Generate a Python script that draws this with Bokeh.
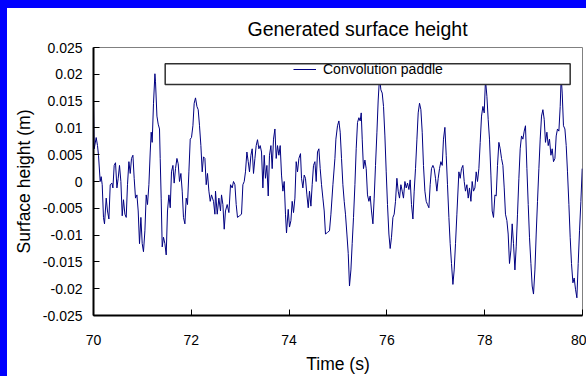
from bokeh.plotting import figure
from bokeh.models import Range1d, FixedTicker, BoxAnnotation, Legend, LegendItem
from bokeh.layouts import column
from bokeh.embed import file_html
from bokeh.resources import INLINE

# ---- data ----
time_s = [
    70.000, 70.014, 70.055, 70.082, 70.102, 70.137, 70.157, 70.178, 70.204, 70.225,
    70.260, 70.286, 70.315, 70.342, 70.376, 70.397, 70.423, 70.450, 70.479, 70.505,
    70.532, 70.560, 70.587, 70.613, 70.642, 70.669, 70.695, 70.724, 70.751, 70.777,
    70.806, 70.832, 70.859, 70.888, 70.914, 70.941, 70.969, 70.996, 71.022, 71.051,
    71.078, 71.104, 71.133, 71.160, 71.180, 71.200, 71.227, 71.256, 71.268, 71.297,
    71.323, 71.350, 71.364, 71.384, 71.405, 71.431, 71.460, 71.487, 71.513, 71.542,
    71.569, 71.595, 71.624, 71.650, 71.677, 71.706, 71.732, 71.759, 71.787, 71.814,
    71.840, 71.869, 71.896, 71.922, 71.951, 71.978, 72.004, 72.033, 72.059, 72.086,
    72.115, 72.141, 72.168, 72.196, 72.223, 72.249, 72.278, 72.305, 72.331, 72.360,
    72.387, 72.413, 72.454, 72.483, 72.495, 72.530, 72.564, 72.597, 72.618, 72.646,
    72.673, 72.699, 72.734, 72.769, 72.802, 72.836, 72.863, 72.892, 72.918, 72.945,
    72.986, 73.027, 73.055, 73.082, 73.108, 73.137, 73.164, 73.190, 73.219, 73.245,
    73.272, 73.301, 73.327, 73.354, 73.382, 73.409, 73.436, 73.464, 73.491, 73.517,
    73.546, 73.573, 73.599, 73.628, 73.654, 73.681, 73.710, 73.736, 73.763, 73.791,
    73.818, 73.845, 73.873, 73.900, 73.926, 73.947, 73.982, 74.008, 74.037, 74.063,
    74.090, 74.119, 74.145, 74.172, 74.200, 74.233, 74.254, 74.282, 74.309, 74.335,
    74.364, 74.391, 74.417, 74.446, 74.472, 74.499, 74.528, 74.554, 74.581, 74.609,
    74.636, 74.663, 74.691, 74.718, 74.744, 74.785, 74.826, 74.855, 74.896, 74.937,
    74.957, 74.990, 75.018, 75.045, 75.072, 75.100, 75.127, 75.153, 75.182, 75.209,
    75.235, 75.264, 75.290, 75.317, 75.346, 75.372, 75.399, 75.427, 75.454, 75.475,
    75.495, 75.521, 75.550, 75.577, 75.603, 75.632, 75.658, 75.685, 75.714, 75.740,
    75.767, 75.796, 75.822, 75.849, 75.877, 75.904, 75.931, 75.959, 75.986, 76.012,
    76.041, 76.067, 76.094, 76.123, 76.149, 76.176, 76.204, 76.231, 76.258, 76.286,
    76.313, 76.339, 76.368, 76.395, 76.421, 76.450, 76.476, 76.503, 76.532, 76.558,
    76.585, 76.614, 76.640, 76.667, 76.695, 76.722, 76.748, 76.777, 76.804, 76.830,
    76.859, 76.885, 76.912, 76.941, 76.967, 76.994, 77.022, 77.049, 77.076, 77.104,
    77.131, 77.157, 77.186, 77.213, 77.239, 77.268, 77.294, 77.321, 77.350, 77.376,
    77.403, 77.431, 77.472, 77.499, 77.526, 77.554, 77.581, 77.607, 77.636, 77.663,
    77.689, 77.718, 77.744, 77.771, 77.800, 77.826, 77.853, 77.881, 77.908, 77.935,
    77.963, 77.990, 78.016, 78.045, 78.071, 78.098, 78.127, 78.153, 78.180, 78.209,
    78.235, 78.262, 78.290, 78.317, 78.344, 78.372, 78.399, 78.425, 78.454, 78.480,
    78.507, 78.536, 78.562, 78.589, 78.618, 78.644, 78.671, 78.699, 78.726, 78.753,
    78.781, 78.808, 78.834, 78.863, 78.890, 78.916, 78.945, 78.971, 78.998, 79.027,
    79.053, 79.080, 79.108, 79.135, 79.162, 79.190, 79.217, 79.243, 79.272, 79.299,
    79.325, 79.354, 79.380, 79.407, 79.436, 79.462, 79.489, 79.517, 79.544, 79.564,
    79.585, 79.611, 79.640, 79.667, 79.693, 79.722, 79.748, 79.775, 79.804, 79.830,
    79.857, 79.885, 79.912, 79.939, 79.967, 79.994,
]

height_m = [
    0.0148, 0.0061, 0.0082, 0.0067, 0.0049, 0.0000, 0.0009, -0.0006, -0.0067, -0.0079,
    -0.0031, -0.0055, -0.0070, -0.0006, -0.0003, -0.0012, 0.0030, 0.0035, -0.0012, 0.0006,
    0.0030, 0.0000, -0.0064, -0.0034, -0.0061, -0.0067, -0.0006, 0.0037, 0.0015, 0.0043,
    0.0049, 0.0006, -0.0031, -0.0025, -0.0055, -0.0116, -0.0067, -0.0116, -0.0131, -0.0092,
    -0.0025, -0.0043, -0.0006, 0.0055, 0.0092, 0.0073, 0.0146, 0.0201, 0.0186, 0.0122,
    0.0107, 0.0098, 0.0043, -0.0031, -0.0122, -0.0104, -0.0116, -0.0137, -0.0055, -0.0025,
    -0.0049, 0.0018, 0.0030, -0.0003, 0.0024, 0.0043, 0.0033, 0.0000, 0.0015, -0.0018,
    -0.0067, -0.0079, -0.0031, -0.0043, 0.0018, 0.0079, 0.0082, 0.0104, 0.0146, 0.0156,
    0.0140, 0.0134, 0.0104, 0.0067, 0.0018, 0.0046, 0.0043, -0.0006, 0.0015, -0.0018,
    -0.0037, -0.0025, -0.0037, -0.0061, -0.0018, -0.0061, -0.0031, -0.0055, -0.0025, -0.0043,
    -0.0089, -0.0055, -0.0043, -0.0058, -0.0006, -0.0012, 0.0000, -0.0006, -0.0043, -0.0067,
    -0.0064, -0.0061, -0.0006, 0.0000, 0.0018, 0.0055, 0.0037, 0.0018, 0.0049, 0.0061,
    0.0015, 0.0043, 0.0067, 0.0078, 0.0061, 0.0067, 0.0055, -0.0012, 0.0049, 0.0006,
    0.0030, -0.0027, 0.0049, 0.0067, 0.0024, 0.0079, 0.0098, 0.0043, 0.0067, 0.0049,
    0.0067, 0.0012, -0.0018, 0.0000, -0.0061, -0.0096, -0.0052, -0.0085, -0.0073, -0.0037,
    -0.0058, -0.0031, 0.0037, 0.0018, 0.0043, 0.0052, 0.0006, -0.0012, 0.0012, 0.0006,
    -0.0025, -0.0049, -0.0018, -0.0046, -0.0006, 0.0030, 0.0037, 0.0000, 0.0055, 0.0061,
    0.0024, -0.0006, -0.0031, -0.0055, -0.0098, -0.0095, -0.0092, -0.0061, -0.0006, 0.0043,
    0.0079, 0.0104, 0.0113, 0.0092, 0.0043, -0.0006, -0.0037, -0.0061, -0.0098, -0.0134,
    -0.0195, -0.0165, -0.0116, -0.0067, -0.0006, 0.0061, 0.0110, 0.0119, 0.0113, 0.0128,
    0.0079, 0.0024, 0.0040, 0.0024, -0.0025, -0.0037, -0.0027, -0.0055, -0.0079, -0.0031,
    0.0030, 0.0092, 0.0152, 0.0195, 0.0171, 0.0165, 0.0140, 0.0085, 0.0018, -0.0043,
    -0.0098, -0.0125, -0.0104, -0.0067, -0.0061, -0.0037, 0.0006, -0.0018, -0.0031, -0.0006,
    -0.0018, -0.0031, 0.0000, -0.0012, -0.0003, -0.0015, 0.0003, -0.0043, -0.0070, -0.0018,
    0.0024, 0.0079, 0.0128, 0.0146, 0.0134, 0.0092, 0.0030, -0.0018, -0.0037, -0.0043,
    -0.0049, -0.0006, 0.0024, 0.0030, 0.0024, 0.0006, -0.0018, 0.0006, 0.0024, 0.0037,
    0.0030, 0.0079, 0.0101, 0.0049, -0.0006, -0.0067, -0.0116, -0.0153, -0.0192, -0.0165,
    -0.0116, -0.0061, 0.0018, 0.0006, 0.0024, 0.0030, 0.0000, -0.0018, -0.0006, -0.0031,
    -0.0012, -0.0037, 0.0000, -0.0018, -0.0012, 0.0018, 0.0000, 0.0024, 0.0073, 0.0122,
    0.0140, 0.0128, 0.0190, 0.0159, 0.0116, 0.0079, 0.0012, -0.0055, -0.0067, -0.0025,
    -0.0027, 0.0030, 0.0073, 0.0061, 0.0043, 0.0030, -0.0012, -0.0061, -0.0073, -0.0098,
    -0.0153, -0.0128, -0.0079, -0.0116, -0.0165, -0.0122, -0.0061, 0.0006, 0.0061, 0.0085,
    0.0079, 0.0094, 0.0104, 0.0024, -0.0043, -0.0104, -0.0153, -0.0195, -0.0210, -0.0165,
    -0.0098, -0.0037, 0.0024, 0.0079, 0.0122, 0.0134, 0.0116, 0.0073, 0.0092, 0.0067,
    0.0079, 0.0049, 0.0061, 0.0037, 0.0043, 0.0085, 0.0098, 0.0094, 0.0140, 0.0195,
    0.0165, 0.0104, 0.0098, 0.0067, 0.0018, -0.0043, -0.0104, -0.0153, -0.0189, -0.0180,
    -0.0201, -0.0217, -0.0153, -0.0092, -0.0037, 0.0024,
]

x_ticks = [70, 72, 74, 76, 78, 80]
y_ticks = [-0.025, -0.02, -0.015, -0.01, -0.005, 0, 0.005, 0.01, 0.015, 0.02, 0.025]
y_tick_labels = ["-0.025", "-0.02", "-0.015", "-0.01", "-0.005", "0",
                 "0.005", "0.01", "0.015", "0.02", "0.025"]

title_text = "Generated surface height"
x_label = "Time (s)"
y_label = "Surface height (m)"
series_name = "Convolution paddle"

FONT = "Liberation Sans"

p = figure(width=579, height=368, output_backend="svg", toolbar_location=None,
           x_range=Range1d(70, 80), y_range=Range1d(-0.025, 0.025),
           min_border_left=86, min_border_right=4, min_border_top=39,
           min_border_bottom=56, background_fill_color="white",
           border_fill_color="white")

p.title.text = title_text
p.title.text_font = FONT
p.title.text_font_size = "19.5px"
p.title.text_font_style = "normal"
p.title.text_color = "black"
p.title.align = "left"
p.title.offset = 154
p.title.standoff = 15

r = p.line(time_s, height_m, line_color="#000080", line_width=1)

p.xgrid.visible = False
p.ygrid.visible = False
p.outline_line_color = "#808080"
p.outline_line_width = 1

for ax in (p.xaxis[0], p.yaxis[0]):
    ax.axis_line_color = "black"
    ax.axis_line_width = 2
    ax.major_tick_line_color = "black"
    ax.major_tick_line_width = 1
    ax.major_tick_out = 0
    ax.major_tick_in = 6
    ax.minor_tick_in = 0
    ax.minor_tick_out = 0
    ax.major_label_text_font = FONT
    ax.major_label_text_font_size = "14px"
    ax.major_label_text_color = "black"
    ax.axis_label_text_font = FONT
    ax.axis_label_text_font_size = "17.5px"
    ax.axis_label_text_font_style = "normal"
    ax.axis_label_text_color = "black"

p.xaxis.ticker = FixedTicker(ticks=x_ticks)
p.xaxis.axis_label = x_label
p.xaxis.major_label_standoff = 19
p.xaxis.axis_label_standoff = 6
p.xaxis.major_label_text_line_height = 1.0
p.xaxis.axis_label_text_line_height = 1.0

p.yaxis.ticker = FixedTicker(ticks=y_ticks)
p.yaxis.major_label_overrides = {v: s for v, s in zip(y_ticks, y_tick_labels)}
p.yaxis.axis_label = y_label
p.yaxis.major_label_standoff = 11
p.yaxis.axis_label_standoff = 6

legend_box = BoxAnnotation(left=71.466, right=79.748, bottom=0.01812, top=0.02196,
                           fill_color="white", fill_alpha=1.0,
                           line_color="#303030", line_alpha=1.0, line_width=1.5)
p.add_layout(legend_box)

legend = Legend(items=[LegendItem(label=series_name, renderers=[r])],
                location=(200, 236), background_fill_alpha=0, border_line_alpha=0,
                glyph_width=23, glyph_height=20, label_standoff=7, padding=0, margin=0,
                spacing=0, label_text_font=FONT, label_text_font_size="14px",
                label_text_color="black")
p.add_layout(legend)

# blue page strips on the top and left edges only; white elsewhere
page_bg = ("linear-gradient(#0000ff, #0000ff) 0 0 / 100% 8px no-repeat, "
           "linear-gradient(#0000ff, #0000ff) 0 0 / 7px 100% no-repeat, #ffffff")
layout = column(p, styles={"background": page_bg,
                           "padding-left": "7px", "padding-top": "8px"})

open("out.html", "w").write(file_html(layout, INLINE))
